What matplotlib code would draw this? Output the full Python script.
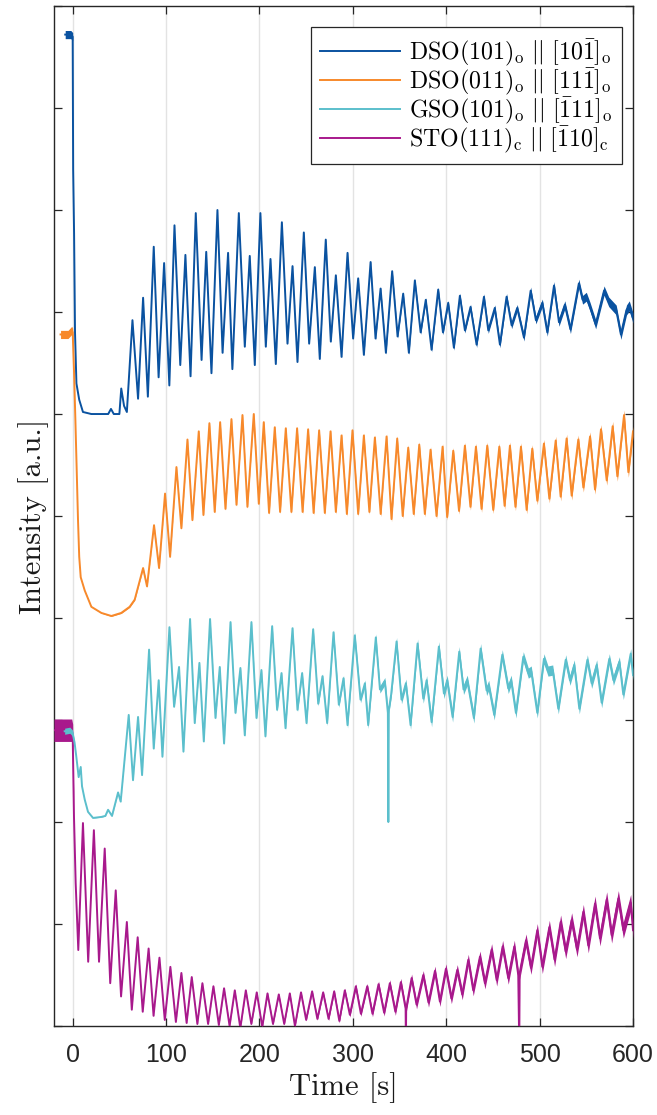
import numpy as np
import matplotlib
matplotlib.use("Agg")
import matplotlib.pyplot as plt

plt.rcParams['mathtext.fontset'] = 'cm'
plt.rcParams['font.family'] = ['Liberation Sans', 'DejaVu Sans']

# ---------------- data (time [s], intensity [a.u.]) ----------------
labels = [r'$\mathrm{DSO(101)_o\ ||\ [10\bar{1}]_o}$',
          r'$\mathrm{DSO(011)_o\ ||\ [11\bar{1}]_o}$',
          r'$\mathrm{GSO(101)_o\ ||\ [\bar{1}11]_o}$',
          r'$\mathrm{STO(111)_c\ ||\ [\bar{1}10]_c}$']
xlabel = 'Time [s]'
ylabel = 'Intensity [a.u.]'

blue_pts = [(-8, 9.72), (-2, 9.72), (0, 9.70), (0.5, 8.4), (1.5, 7.77), (2.5, 6.8), (4, 6.3), (7, 6.14),
            (11, 6.02), (20, 6.0), (30, 6.0), (38, 6.0), (41, 6.05), (44, 6.0), (50, 6.0), (52, 6.25),
            (55, 6.08), (58, 6.02), (64, 6.92), (70, 6.15), (75.4, 7.14), (80.5, 6.17), (86.8, 7.64),
            (92, 6.36), (97.9, 7.48), (103.5, 6.28), (109, 7.85), (115.2, 6.48), (120.7, 7.56),
            (126.2, 6.37), (131.8, 7.97), (138, 6.53), (143, 7.59), (148.6, 6.40), (155, 8.0),
            (160.5, 6.6), (166.4, 7.58), (171, 6.44), (177.9, 7.97), (184.3, 6.66), (189.6, 7.55),
            (195, 6.48), (201, 7.97), (206.8, 6.66), (211.8, 7.52), (217.5, 6.49), (224, 7.88),
            (230, 6.69), (235.4, 7.45), (240.7, 6.51), (247.5, 7.78), (253.2, 6.69), (259.3, 7.44),
            (264.6, 6.54), (271, 7.71), (276.4, 6.71), (281.8, 7.36), (287.9, 6.56), (294.3, 7.58),
            (300.3, 6.74), (305.7, 7.33), (311.8, 6.58), (319, 7.49), (324.3, 6.74), (329.7, 7.23),
            (335.4, 6.6), (342.1, 7.40), (347.9, 6.76), (353.9, 7.18), (360, 6.6), (366.4, 7.31),
            (372.6, 6.8), (378.1, 7.12), (384.3, 6.63), (391.4, 7.22), (396.5, 6.8), (402.1, 7.09),
            (408.2, 6.65), (414.6, 7.16), (420, 6.82), (426, 7.05), (432.5, 6.68), (440.4, 7.15),
            (445, 6.82), (452, 7.04), (457.5, 6.68), (464.6, 7.15), (470, 6.87), (476, 7.04),
            (483.2, 6.75), (490.4, 7.21), (496, 6.92), (502.9, 7.09), (508.2, 6.8), (515.4, 7.26),
            (520.7, 6.9), (527, 7.07), (533, 6.83), (542, 7.28), (546, 7.12), (550, 7.15),
            (554, 7.05), (560, 6.88), (569, 7.21), (574, 7.1), (579, 7.05), (582, 7.02),
            (587, 6.78), (593, 7.02), (596, 7.06), (600, 6.94)]

orange_pts = [(-13, 6.78), (-5, 6.78), (-1, 6.82), (0, 6.8), (1.5, 6.4), (2.9, 5.94), (4.3, 5.45),
              (5.7, 4.96), (7, 4.6), (8.6, 4.40), (12.9, 4.27), (20, 4.11), (30.7, 4.05), (41.4, 4.02),
              (52, 4.05), (61, 4.11), (66.4, 4.18), (75.4, 4.49), (79.6, 4.31), (87.1, 4.91),
              (92.5, 4.49), (98.9, 5.22), (104.3, 4.60), (111.1, 5.48), (116.4, 4.88), (122.9, 5.75),
              (128.2, 4.96), (135, 5.83), (140, 5.01), (146.4, 5.91), (152.1, 5.04), (157.9, 5.92),
              (163.6, 5.07), (170, 5.95), (175.4, 5.11), (181.8, 5.99), (187.1, 5.09), (193.9, 6.0),
              (199.3, 5.12), (204.6, 5.92), (210.3, 5.03), (216.4, 5.87), (222.1, 5.04), (228.2, 5.86),
              (234.2, 5.04), (240.3, 5.86), (246.2, 5.04), (252.1, 5.85), (258, 5.03), (263.9, 5.84),
              (270, 5.03), (276.1, 5.83), (281.8, 5.04), (287.9, 5.79), (293.6, 5.02), (299.6, 5.84),
              (305.7, 5.02), (311.8, 5.79), (317.7, 5.04), (323.6, 5.77), (329.8, 5.02), (336.1, 5.78),
              (341.4, 4.97), (347.5, 5.76), (353.4, 5.0), (359.3, 5.67), (365.2, 5.02), (371.1, 5.70),
              (377.1, 5.02), (383.2, 5.65), (389.6, 5.0), (396.1, 5.68), (401, 4.99), (407.5, 5.64),
              (413.7, 5.05), (420, 5.69), (425.9, 5.09), (431.8, 5.68), (437.8, 5.07), (443.9, 5.69),
              (450.3, 5.06), (456.8, 5.68), (462.5, 5.1), (468.2, 5.69), (474.1, 5.09), (480, 5.68),
              (486.1, 5.06), (492.1, 5.66), (497.5, 5.15), (504.6, 5.71), (510.4, 5.17), (517.2, 5.74),
              (522.5, 5.19), (528.9, 5.76), (534.3, 5.2), (541.4, 5.75), (546.8, 5.28), (554, 5.78),
              (559.3, 5.26), (565.7, 5.85), (571.8, 5.35), (578.2, 5.88), (583.2, 5.39), (590.4, 5.99),
              (595, 5.43), (600, 5.83)]

cyan_pts = [(-8.6, 2.89), (-3, 2.9), (0, 2.87), (2, 2.78), (3.9, 2.64), (6.4, 2.44), (8.6, 2.54),
            (10, 2.35), (12.9, 2.22), (16.4, 2.10), (21.8, 2.04), (30.7, 2.05), (35, 2.06), (37.9, 2.12),
            (42.1, 2.06), (48.6, 2.29), (51.4, 2.2), (60, 3.05), (64.6, 2.41), (70, 3.03), (74.3, 2.46),
            (81.8, 3.69), (86.8, 2.72), (92.1, 3.39), (96.1, 2.64), (103.6, 3.91), (108.6, 3.13),
            (113.9, 3.52), (118.6, 2.69), (125.7, 3.99), (130.7, 2.97), (135.7, 3.56), (140.4, 2.79),
            (147.1, 3.99), (152.9, 3.02), (157.5, 3.52), (162.1, 2.77), (169, 3.96), (174.3, 3.07),
            (179.6, 3.51), (184.3, 2.85), (191.4, 3.96), (196.8, 3.02), (202.1, 3.49), (206.4, 2.84),
            (213.6, 3.92), (218.9, 3.10), (223.6, 3.46), (227.9, 2.92), (235.4, 3.90), (240.7, 3.10),
            (245.7, 3.46), (250.4, 2.97), (257.5, 3.89), (262.9, 3.16), (267.5, 3.43), (272.5, 2.97),
            (279.3, 3.86), (285, 3.15), (290, 3.41), (294.3, 2.95), (302.1, 3.83), (308.2, 3.2),
            (312.9, 3.36), (316.4, 2.95), (324.6, 3.81), (329, 3.3), (334.3, 3.38), (337.5, 3.07),
            (338.0, 2.0), (338.5, 3.1), (341, 3.25), (346.8, 3.77), (352.1, 3.2), (356.8, 3.36),
            (361.8, 2.95), (369.3, 3.75), (375.4, 3.21), (379, 3.39), (384.3, 2.98), (392.1, 3.72),
            (397.5, 3.26), (401, 3.39), (406.8, 3.03), (413.9, 3.67), (418.5, 3.3), (422.5, 3.39),
            (429.6, 3.02), (436.8, 3.70), (443.2, 3.29), (445.5, 3.34), (451.4, 3.05), (460, 3.64),
            (466.4, 3.31), (469.5, 3.39), (474.6, 3.07), (482.5, 3.62), (487.9, 3.46), (491, 3.48),
            (497.5, 3.07), (504.6, 3.60), (509, 3.48), (514, 3.49), (520, 3.11), (527.9, 3.59),
            (532.5, 3.39), (537.1, 3.54), (542.5, 3.11), (551.1, 3.59), (555.7, 3.36), (561.1, 3.54),
            (566.4, 3.17), (574.6, 3.60), (579, 3.39), (585.4, 3.57), (589.6, 3.25), (597.5, 3.65),
            (600, 3.44)]

magenta_pts = [(-20, 2.9), (-1, 2.9), (0, 2.85), (1.4, 2.05), (3.2, 1.40), (6.0, 0.745), (11, 1.99),
               (16.6, 0.63), (22.7, 1.92), (28.2, 0.63), (34.3, 1.74), (40.2, 0.42), (46.1, 1.33),
               (51.8, 0.29), (58, 1.02), (63.3, 0.16), (69.6, 0.87), (75, 0.14), (81.3, 0.76),
               (86.6, 0.10), (92.9, 0.67), (98.6, 0.06), (104.6, 0.58), (110.5, 0.04), (116.4, 0.52),
               (122, 0.03), (127.5, 0.48), (133.5, 0.02), (138.9, 0.42), (145, 0.02), (150.7, 0.39),
               (156.5, 0.01), (162.1, 0.37), (168, 0.0), (173.6, 0.35), (179.5, -0.02), (185.4, 0.35),
               (191.3, 0.02), (197.1, 0.33), (203, -0.01), (208.6, 0.32), (214.5, 0.02), (220.7, 0.31),
               (226.5, 0.02), (232.5, 0.32), (238, 0.0), (244.5, 0.33), (250, 0.06), (256.4, 0.34),
               (262, 0.07), (268.2, 0.33), (274, 0.07), (280, 0.34), (285.5, 0.05), (291.4, 0.35),
               (296.8, 0.11), (303.2, 0.39), (308.6, 0.12), (315.4, 0.39), (321, 0.12), (327.5, 0.41),
               (333.5, 0.13), (339.6, 0.42), (345.5, 0.14), (351.4, 0.43), (356.5, 0.17), (356.8, -0.2),
               (357.1, 0.17), (362.9, 0.47), (368.2, 0.21), (375.4, 0.50), (381, 0.23), (387.9, 0.54),
               (393.2, 0.24), (399.6, 0.56), (405.5, 0.27), (411.8, 0.55), (417.1, 0.31), (423.6, 0.65),
               (428.9, 0.35), (436.1, 0.68), (441.4, 0.42), (448.6, 0.75), (454, 0.45), (460.4, 0.78),
               (466.4, 0.47), (472.9, 0.78), (477.1, 0.50), (478.2, -0.2), (478.6, 0.52), (485.4, 0.84),
               (490.7, 0.57), (497.5, 0.94), (502.9, 0.58), (510.4, 0.97), (516, 0.65), (522.5, 1.02),
               (527.9, 0.73), (534.3, 1.04), (540, 0.75), (546.8, 1.12), (552.1, 0.79), (559.3, 1.20),
               (564.6, 0.86), (571.8, 1.24), (577.1, 0.89), (584.3, 1.25), (589.6, 0.94), (597.5, 1.21),
               (600, 0.94)]

# read thickness (half-width of the noisy band) at a few times
blue_noise = [(-20, 0.04), (0, 0.04), (0.5, 0.0), (300, 0.01), (450, 0.03), (600, 0.05)]
orange_noise = [(-20, 0.04), (0, 0.04), (0.5, 0.0), (100, 0.01), (400, 0.03), (600, 0.05)]
cyan_noise = [(-20, 0.03), (0, 0.03), (0.5, 0.0), (250, 0.02), (400, 0.05), (600, 0.05)]
magenta_noise = [(-20, 0.11), (0, 0.11), (0.5, 0.0), (250, 0.01), (400, 0.05), (600, 0.08)]

colors = ['#0a52a0', '#f7892b', '#5bbfcc', '#a8198c']
series = [blue_pts, orange_pts, cyan_pts, magenta_pts]
noises = [blue_noise, orange_noise, cyan_noise, magenta_noise]
zorders = [3, 3, 4, 3.5]

xticks = [0, 100, 200, 300, 400, 500, 600]

# ---------------- figure ----------------
fig = plt.figure(figsize=(6.57, 11.15), dpi=100)
ax = fig.add_axes([0.0822, 0.0798, 0.8813, 0.9148])

for pts, nz, c, lab, zo in zip(series, noises, colors, labels, zorders):
    t = np.array([p[0] for p in pts], dtype=float)
    v = np.array([p[1] for p in pts], dtype=float)
    nt = [p[0] for p in nz]
    nw = [p[1] for p in nz]
    w = np.interp(t, nt, nw)
    ax.fill_between(t, v - w, v + w, color=c, lw=0, zorder=zo)
    ax.plot(t, v, color=c, lw=1.4, label=lab, zorder=zo)

ax.set_xlim(-20, 600)
ax.set_ylim(0, 10)
ax.set_xticks(xticks)
ax.set_xticklabels([str(x) for x in xticks])
ax.set_yticks(np.arange(0, 11, 1))
ax.set_yticklabels([])
ax.grid(axis='x', color='#e3e3e3', lw=1.0, zorder=0)
ax.set_axisbelow(True)

ax.tick_params(axis='both', which='both', direction='in', length=6, width=0.9,
               top=True, right=True, colors='#262626', labelsize=18, pad=12)
for sp in ax.spines.values():
    sp.set_color('#262626')
    sp.set_linewidth(1.0)

ax.set_xlabel(xlabel, fontsize=22, color='#1a1a1a', labelpad=4, family='cmr10')
ax.set_ylabel(ylabel, fontsize=22, color='#1a1a1a', family='cmr10')
ax.yaxis.set_label_coords(-0.008, 0.5)

leg = ax.legend(loc='upper right', bbox_to_anchor=(0.981, 0.979), borderaxespad=0,
                fontsize=17.2, handlelength=3.35, labelspacing=-0.08, fancybox=False,
                framealpha=1, edgecolor='#262626', borderpad=0.4, handletextpad=0.38)
leg.get_frame().set_linewidth(0.9)
leg.set_zorder(10)

fig.savefig('out.png', dpi=100)
